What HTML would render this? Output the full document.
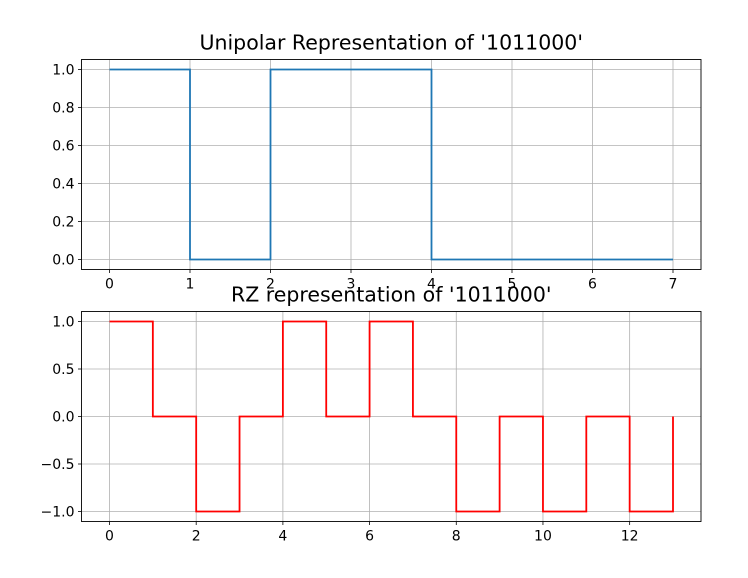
<!DOCTYPE html>
<html><head><meta charset="utf-8"><style>body{margin:0;background:#fff}svg{font-family:"DejaVu Sans","Liberation Sans",sans-serif}</style></head>
<body>
<svg id="c" width="748" height="573" xmlns="http://www.w3.org/2000/svg"></svg>
<script>
const topX=[0,1,2,3,4,5,6,7];
const topY=[1,0,1,1,0,0,0,0];
const topXTicks=[0,1,2,3,4,5,6,7];
const topYTicks=[0.0,0.2,0.4,0.6,0.8,1.0];
const botX=[0,1,2,3,4,5,6,7,8,9,10,11,12,13];
const botY=[1,0,-1,0,1,0,1,0,-1,0,-1,0,-1,0];
const botXTicks=[0,2,4,6,8,10,12];
const botYTicks=[-1.0,-0.5,0.0,0.5,1.0];
const svg=document.getElementById('c');const NS='http://www.w3.org/2000/svg';
function mk(t,a,p,txt){const e=document.createElementNS(NS,t);for(const k in a)e.setAttribute(k,a[k]);if(txt!==undefined)e.textContent=txt;(p||svg).appendChild(e);return e;}
function panel(o){
 const g=mk('g',{});
 
 
 const sx=v=>o.x0+(v-o.xmin)/(o.xmax-o.xmin)*(o.x1-o.x0);
 const sy=v=>o.y0+(v-o.ymin)/(o.ymax-o.ymin)*(o.y1-o.y0);
 o.xt.forEach(v=>{const l=mk('line',{x1:sx(v),x2:sx(v),y1:o.T,y2:o.B,stroke:'#b0b0b0','stroke-width':0.8},g);
  mk('line',{x1:sx(v),x2:sx(v),y1:o.B,y2:o.B+3.5,stroke:'#000','stroke-width':0.8},g);
  const t=mk('text',{x:sx(v),y:o.B+19,'text-anchor':'middle','font-size':14},g,String(v));});
 o.yt.forEach(v=>{const l=mk('line',{x1:o.L,x2:o.R,y1:sy(v),y2:sy(v),stroke:'#b0b0b0','stroke-width':0.8},g);
  mk('line',{x1:o.L-3.5,x2:o.L,y1:sy(v),y2:sy(v),stroke:'#000','stroke-width':0.8},g);
  const s=v.toFixed(1).replace('-','\u2212');
  const t=mk('text',{x:o.L-7,y:sy(v)+5,'text-anchor':'end','font-size':14},g,s);});
 let d='';o.X.forEach((x,i)=>{if(i==0)d+='M'+sx(x)+','+sy(o.Y[0]);else d+='L'+sx(x)+','+sy(o.Y[i-1])+'L'+sx(x)+','+sy(o.Y[i]);});
 const p=mk('path',{d:d,fill:'none',stroke:o.color,'stroke-width':1.8},g);
 const f=mk('rect',{x:o.L,y:o.T,width:o.R-o.L,height:o.B-o.T,fill:'none',stroke:'#000','stroke-width':0.9},g);
 const t=mk('text',{x:(o.L+o.R)/2,y:o.T-10,'text-anchor':'middle','font-size':20.5},g,o.title);
}
panel({name:'unipolar-panel',X:topX,Y:topY,xt:topXTicks,yt:topYTicks,L:81.5,R:701,T:59.5,B:269.5,xmin:0,xmax:7,x0:109.5,x1:673,ymin:0,ymax:1,y0:259.5,y1:69.5,color:'#1f77b4',title:"Unipolar Representation of '1011000'"});
panel({name:'rz-panel',X:botX,Y:botY,xt:botXTicks,yt:botYTicks,L:81.5,R:701,T:311.5,B:521.5,xmin:0,xmax:13,x0:109.5,x1:673,ymin:-1,ymax:1,y0:511.5,y1:321.5,color:'#ff0000',title:"RZ representation of '1011000'"});
</script>
</body></html>
